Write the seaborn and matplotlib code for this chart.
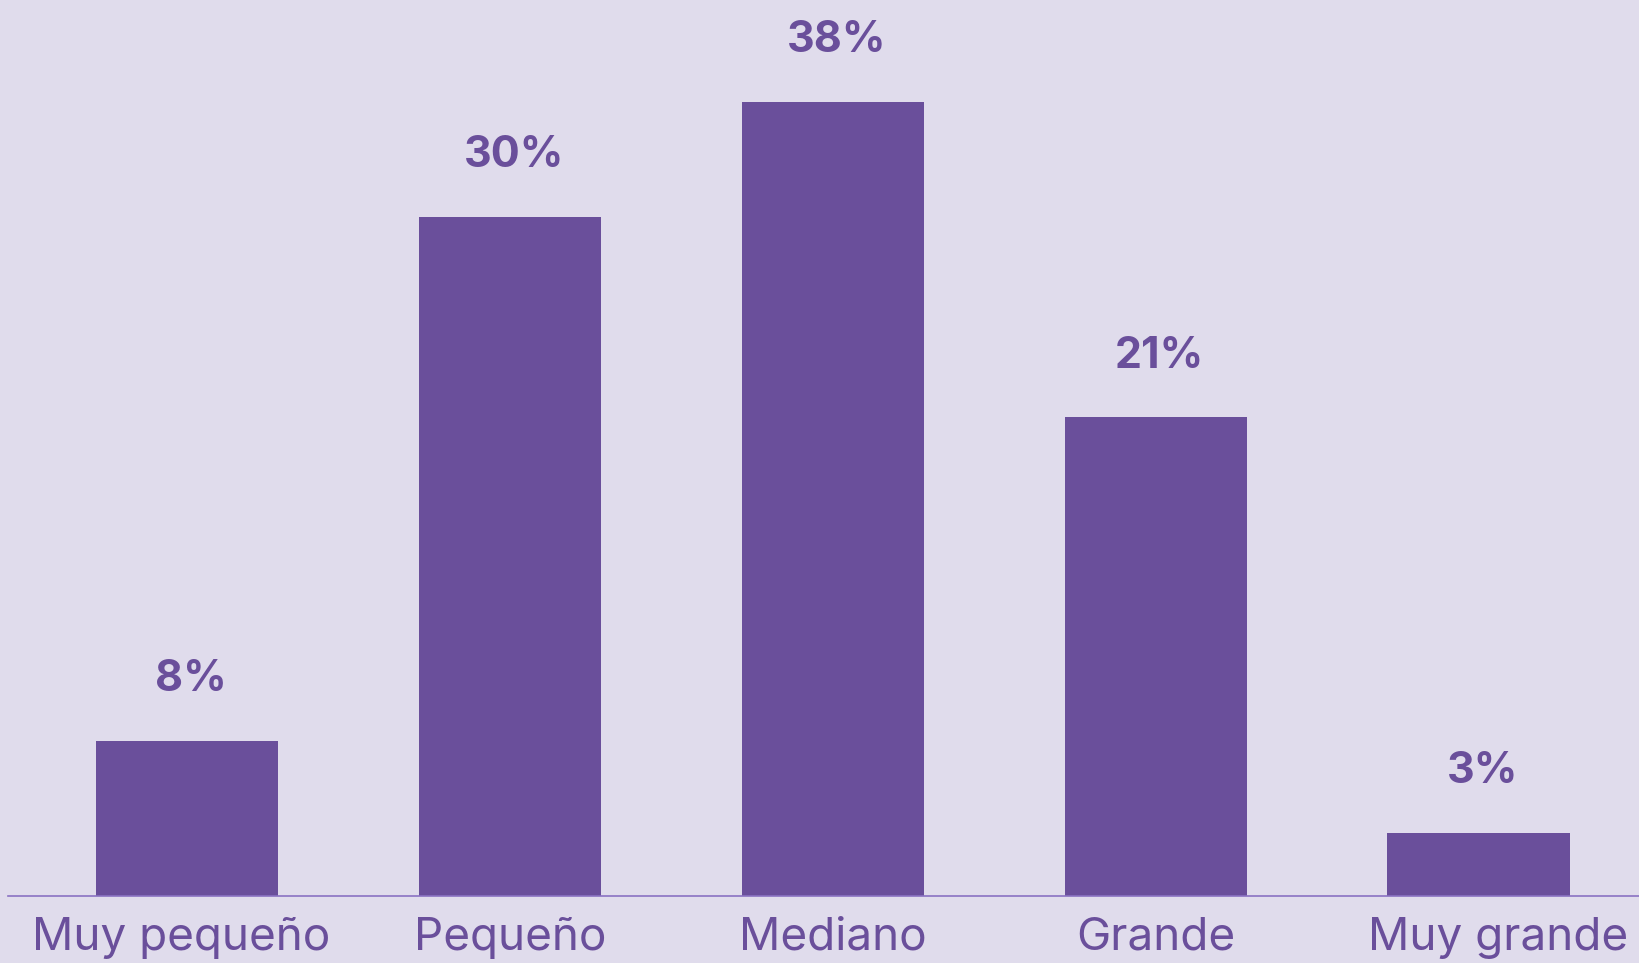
import pandas as pd
import matplotlib.pyplot as plt
import matplotlib.transforms as mtransforms
import seaborn as sns

# data
categories = ["Muy pequeño", "Pequeño", "Mediano", "Grande", "Muy grande"]
bar_heights = [7.4, 32.5, 38.0, 22.9, 3.0]   # drawn heights (%)
value_labels = ["8%", "30%", "38%", "21%", "3%"]

bg = "#E0DCEC"
purple = "#6A4F9B"

df = pd.DataFrame({"size": categories, "pct": bar_heights})

sns.set_theme(style="white")
plt.rcParams["font.family"] = ["Inter", "DejaVu Sans"]

fig = plt.figure(figsize=(16.4, 9.63), dpi=100, facecolor=bg)
ax = fig.add_axes([8 / 1640, 1 - 895.7 / 963, 1 - 8 / 1640, 895.7 / 963])
ax.set_facecolor(bg)

sns.barplot(data=df, x="size", y="pct", color=purple, saturation=1,
            width=0.564, linewidth=0, ax=ax)

for i, (h, lab) in enumerate(zip(bar_heights, value_labels)):
    ax.annotate(lab, (i, h), xytext=(3, 44), textcoords="offset points",
                ha="center", va="center", fontsize=31, fontweight="bold",
                color=purple)

ax.set_xlim(-0.554, 4.5)
ax.set_ylim(0, 42.86)
ax.set_xlabel("")
ax.set_ylabel("")
ax.set_yticks([])
ax.tick_params(axis="x", length=0, pad=15, labelsize=33, labelcolor=purple)

# the outer labels sit a bit off-centre in the original
labels = ax.get_xticklabels()
labels[0].set_transform(labels[0].get_transform() +
                        mtransforms.ScaledTranslation(-6 / 100, 0, fig.dpi_scale_trans))
labels[-1].set_transform(labels[-1].get_transform() +
                         mtransforms.ScaledTranslation(20 / 100, 0, fig.dpi_scale_trans))

for side in ["top", "right", "left"]:
    ax.spines[side].set_visible(False)
ax.spines["bottom"].set_color("#8A72C2")
ax.spines["bottom"].set_linewidth(1.2)

fig.savefig("out.png", dpi=100, facecolor=bg)
